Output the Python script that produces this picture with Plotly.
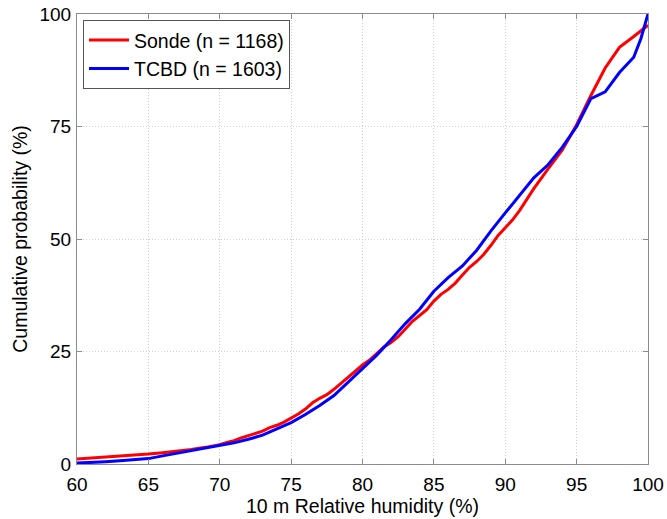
import plotly.graph_objects as go

# Relative humidity values (%) at which the Sonde distribution is given
sonde_rh = [60, 61, 62, 63, 64, 65, 66, 67, 68, 69, 70, 70.5, 71, 71.5, 72, 72.5, 73, 73.5,
            74, 74.5, 75, 75.5, 76, 76.5, 77, 77.5, 78, 78.5, 79, 79.5, 80, 80.5, 81, 81.5,
            82, 82.5, 83, 83.5, 84, 84.5, 85, 85.5, 86, 86.5, 87, 87.5, 88, 88.5, 89, 89.5,
            90, 90.5, 91, 91.5, 92, 93, 94, 95, 96, 97, 98, 99, 100]
# Cumulative probability (%) of the Sonde data
sonde_cdf = [1.1, 1.3, 1.5, 1.7, 1.9, 2.2, 2.5, 2.8, 3.2, 3.7, 4.3, 4.8, 5.2, 5.8, 6.3, 6.9,
             7.3, 8.1, 8.6, 9.3, 10.2, 11.1, 12.2, 13.6, 14.6, 15.4, 16.6, 18.0, 19.3, 20.8,
             22.0, 23.1, 24.6, 26.0, 27.0, 28.3, 30.0, 31.7, 33.0, 34.3, 36.2, 37.7, 38.8,
             40.2, 42.0, 43.7, 45.0, 46.6, 48.6, 50.8, 52.5, 54.2, 56.3, 58.9, 61.2, 65.6,
             69.8, 75.4, 81.9, 88.0, 92.6, 95.0, 97.5]

# Relative humidity values (%) and cumulative probability (%) of the TCBD data
tcbd_rh = [60, 61, 62, 63, 64, 65, 66, 67, 68, 69, 70, 71, 72, 73, 74, 75, 76, 77, 78, 79,
           80, 81, 82, 83, 84, 85, 86, 87, 88, 89, 90, 91, 92, 93, 94, 95, 96, 97, 98, 99,
           99.5, 100]
tcbd_cdf = [0.2, 0.3, 0.5, 0.7, 0.9, 1.2, 1.8, 2.4, 3.0, 3.5, 4.1, 4.7, 5.5, 6.4, 7.8,
            9.2, 11.0, 13.0, 15.2, 18.2, 21.0, 24.2, 27.6, 31.2, 34.4, 38.4, 41.4,
            44.0, 47.5, 51.8, 55.8, 59.6, 63.6, 66.5, 70.4, 75.0, 81.2, 82.7, 87.0,
            90.4, 94.5, 100.0]

series_names = ["Sonde (n = 1168)", "TCBD (n = 1603)"]
x_ticks = [60, 65, 70, 75, 80, 85, 90, 95, 100]
y_ticks = [0, 25, 50, 75, 100]

FONT = "Liberation Sans, Arial, Helvetica, sans-serif"

fig = go.Figure()
fig.add_trace(go.Scatter(x=sonde_rh, y=sonde_cdf, mode="lines", name=series_names[0],
                         line=dict(color="#ff0000", width=3)))
fig.add_trace(go.Scatter(x=tcbd_rh, y=tcbd_cdf, mode="lines", name=series_names[1],
                         line=dict(color="#0000ff", width=3)))

axis_common = dict(
    showline=True, linecolor="#8c8c8c", linewidth=1, mirror="ticks",
    ticks="inside", ticklen=5, tickcolor="#8c8c8c",
    showgrid=True, gridcolor="#cfcfcf", griddash="1px,2px", gridwidth=1,
    zeroline=False, automargin=False,
    tickfont=dict(family=FONT, size=19, color="#000000"),
)

fig.update_xaxes(range=[60, 100], tickvals=x_ticks, ticklabelstandoff=3,
                 title=dict(text="10 m Relative humidity (%)", standoff=3,
                            font=dict(family=FONT, size=19.5, color="#000000")),
                 **axis_common)
fig.update_yaxes(range=[0, 100], tickvals=y_ticks, ticklabelstandoff=1,
                 title=dict(text="Cumulative probability (%)", standoff=6,
                            font=dict(family=FONT, size=19.5, color="#000000")),
                 **axis_common)

fig.update_layout(
    width=667, height=519,
    margin=dict(l=77, r=19, t=14, b=55),
    paper_bgcolor="white", plot_bgcolor="white",
    font=dict(family=FONT, size=19, color="#000000"),
    showlegend=True,
    legend=dict(x=0.0105, y=0.987, xanchor="left", yanchor="top",
                bgcolor="white", bordercolor="#555555", borderwidth=1,
                font=dict(family=FONT, size=19.5, color="#000000"),
                tracegroupgap=0, itemwidth=40),
)

fig.write_html("out.html")
